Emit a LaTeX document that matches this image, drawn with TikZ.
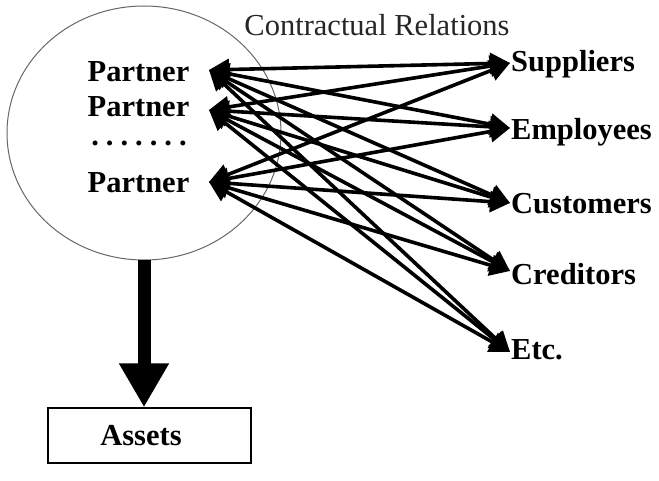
\documentclass[tikz,border=0pt]{standalone}
\usepackage{fontspec}
\setmainfont{Liberation Serif}
\usetikzlibrary{arrows.meta,shapes.geometric}
\begin{document}
\begin{tikzpicture}[x=1pt,y=-1pt,
  lbl/.style={font=\fontsize{30.5}{30}\selectfont\bfseries, inner sep=0pt},
  rel/.style={line width=3.6pt, {Triangle[length=20pt,width=21pt]}-{Triangle[length=20pt,width=21pt]}},
  bigarrow/.style={line width=13pt, -{Triangle[length=44pt,width=47pt]}}
]
\useasboundingbox (0,0) rectangle (659,481);
\node[draw=black!60, line width=1pt, ellipse, minimum width=274pt, minimum height=254pt, inner sep=0pt] (firm) at (144,133) {};
\node[lbl] (p1) at (138.5,72) {Partner};
\node[lbl] (p2) at (138.5,107) {Partner};
\node[lbl] (dots) at (139,143) {.\hspace{7pt}.\hspace{7pt}.\hspace{7pt}.\hspace{7pt}.\hspace{7pt}.\hspace{7pt}.};
\node[lbl] (p3) at (138.5,183) {Partner};
\node[inner sep=0pt, text=black!85, font=\fontsize{30.5}{30}\selectfont] (cr) at (377,25) {Contractual Relations};
\node[lbl, anchor=west] (s1) at (511,64) {Suppliers};
\node[lbl, anchor=west] (s2) at (511,132) {Employees};
\node[lbl, anchor=west] (s3) at (511,204) {Customers};
\node[lbl, anchor=west] (s4) at (511,274) {Creditors};
\node[lbl, anchor=west] (s5) at (511,350) {Etc.};
\coordinate (a1) at (209,70);
\coordinate (a2) at (209,110);
\coordinate (a3) at (209,182);
\coordinate (b1) at (510,63);
\coordinate (b2) at (510,128);
\coordinate (b3) at (510,203);
\coordinate (b4) at (510,271);
\coordinate (b5) at (510,352);
\foreach \i in {1,2,3}{
  \foreach \j in {1,...,5}{
    \draw[rel] (a\i) -- (b\j);
  }
}
\node[draw, line width=1.4pt, minimum width=203pt, minimum height=55pt, inner sep=0pt, font=\fontsize{30.5}{30}\selectfont\bfseries] (assets) at (149.5,435.5) {\hspace*{-17pt}Assets};
\draw[bigarrow] (firm.south) -- (firm.south |- assets.north);
\end{tikzpicture}
\end{document}
